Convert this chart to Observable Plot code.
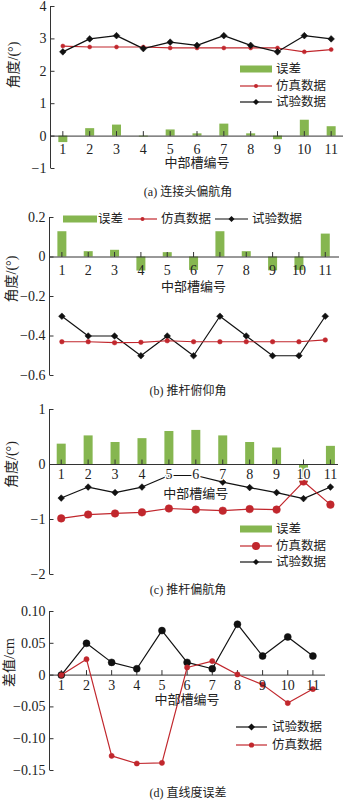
<!DOCTYPE html>
<html><head><meta charset="utf-8">
<script src="https://cdn.jsdelivr.net/npm/d3@7"></script>
<script src="https://cdn.jsdelivr.net/npm/@observablehq/plot@0.6"></script>
<style>
body{margin:0;background:#fff;}
#root{position:relative;width:346px;height:800px;font-family:"Liberation Serif","Noto Sans CJK SC",serif;color:#222;overflow:hidden;}
.panel{position:absolute;left:0;}
.panel svg text{font-family:"Liberation Serif","Noto Sans CJK SC",serif;}
.cap{position:absolute;left:30px;width:316px;text-align:center;font-size:12px;line-height:14px;}
.leg{position:absolute;font-size:12.5px;line-height:14px;white-space:nowrap;}
.sw{position:absolute;}
</style></head><body><div id="root"></div>
<script>
const cats = [1,2,3,4,5,6,7,8,9,10,11];
const xTitle = "中部槽编号";
const names = {err: "误差", sim: "仿真数据", test: "试验数据"};

// (a) 连接头偏航角
const aErr  = [-0.2,0.23,0.34,-0.03,0.19,0.07,0.37,0.07,-0.11,0.49,0.29];
const aSim  = [2.78,2.75,2.75,2.75,2.72,2.72,2.72,2.72,2.72,2.6,2.67];
const aTest = [2.6,3.0,3.1,2.7,2.9,2.8,3.1,2.8,2.6,3.1,3.0];
const aTicks = [-1,0,1,2,3,4];
// (b) 推杆俯仰角
const bErr  = [0.128,0.027,0.034,-0.071,0.022,-0.068,0.128,0.027,-0.07,-0.068,0.116];
const bSim  = [-0.429,-0.429,-0.434,-0.432,-0.424,-0.429,-0.429,-0.429,-0.429,-0.429,-0.42];
const bTest = [-0.3,-0.4,-0.4,-0.5,-0.4,-0.5,-0.3,-0.4,-0.5,-0.5,-0.3];
const bTicks = [-0.6,-0.4,-0.2,0,0.2];
// (c) 推杆偏航角
const cErr  = [0.37,0.52,0.4,0.47,0.6,0.62,0.52,0.4,0.3,-0.33,0.33];
const cSim  = [-0.98,-0.91,-0.89,-0.87,-0.8,-0.82,-0.84,-0.81,-0.82,-0.31,-0.73];
const cTest = [-0.61,-0.41,-0.51,-0.41,-0.2,-0.2,-0.32,-0.42,-0.51,-0.62,-0.41];
const cTicks = [-2,-1,0,1];
// (d) 直线度误差
const dTest = [0,0.05,0.02,0.01,0.07,0.02,0.01,0.08,0.03,0.06,0.03];
const dSim  = [0,0.025,-0.127,-0.139,-0.138,0.012,0.022,0.001,-0.015,-0.044,-0.022];
const dTicks = [-0.15,-0.10,-0.05,0,0.05,0.10];

const GREEN = "#86b650", RED = "#c1272d", BLACK = "#111", AX = "#333";
const FONT = '"Liberation Serif","Noto Sans CJK SC",serif';
const tickUp = {draw(ctx){ctx.moveTo(0,0);ctx.lineTo(0,-5);}};
const tickRight = {draw(ctx){ctx.moveTo(0,0);ctx.lineTo(4,0);}};
const fmt = n => d => d === 0 ? "0" : (d < 0 ? "\u2212" : "") + Math.abs(d).toFixed(n);

const root = document.getElementById("root");

function panel(o) {
  const marks = [];
  if (o.err) marks.push(Plot.ruleX(cats, {x: d => d, y1: 0, y2: (d, i) => o.err[i], stroke: GREEN, strokeWidth: 9}));
  marks.push(Plot.ruleY([0], {stroke: AX, strokeWidth: 1}));
  marks.push(Plot.ruleX([o.xDomain[0]], {stroke: AX, strokeWidth: 1}));
  marks.push(Plot.dot(cats, {x: d => d, y: 0, symbol: tickUp, stroke: AX, fill: "none", strokeWidth: 1}));
  marks.push(Plot.dot(o.yTicks, {y: d => d, frameAnchor: "left", symbol: tickRight, stroke: AX, fill: "none", strokeWidth: 1}));
  marks.push(Plot.axisY({ticks: o.yTicks, tickSize: 0, tickPadding: 4, tickFormat: o.fmt, fontSize: 14, fontFamily: FONT, label: null, fill: "#222"}));
  for (const s of o.series) {
    marks.push(Plot.line(cats, {x: d => d, y: (d, i) => s.values[i], stroke: s.color, strokeWidth: 1.2}));
    marks.push(Plot.dot(cats, {x: d => d, y: (d, i) => s.values[i], symbol: s.symbol, r: s.r, fill: s.color, stroke: s.color, strokeWidth: 0.5}));
  }
  marks.push(Plot.text(cats, {x: d => d, y: 0, dy: o.tickDy, text: d => String(d), fontSize: 14, fontFamily: FONT, fill: "#222",
    ...(o.halo ? {stroke: "white", strokeWidth: 3} : {})}));
  marks.push(Plot.text([xTitle], {x: d3.median(cats), y: 0, dy: o.titleDy, fontSize: 13, fontFamily: FONT, fill: "#222"}));
  marks.push(Plot.text([o.ylabel], {frameAnchor: "left", rotate: -90, dx: o.ylabelDx, dy: o.ylabelDy || 0, fontSize: 14, fontFamily: FONT, fill: "#222"}));
  const svg = Plot.plot({
    width: 346, height: o.height,
    marginTop: o.mt, marginBottom: o.mb, marginLeft: o.ml, marginRight: o.mr,
    x: {domain: o.xDomain, axis: null},
    y: {domain: o.yDomain, axis: null},
    style: {fontFamily: FONT, fontSize: "14px", color: "#222", background: "transparent", overflow: "visible"},
    marks
  });
  const div = document.createElement("div");
  div.className = "panel";
  div.style.top = o.top + "px";
  div.appendChild(svg);
  root.appendChild(div);
}

function caption(text, y) {
  const d = document.createElement("div");
  d.className = "cap"; d.style.top = (y - 7) + "px"; d.textContent = text;
  root.appendChild(d);
}

function swatch(kind, color, symbol, r, x1, x2, y) {
  const w = x2 - x1;
  const ns = "http://www.w3.org/2000/svg";
  const s = document.createElementNS(ns, "svg");
  s.setAttribute("width", w); s.setAttribute("height", 12);
  s.setAttribute("class", "sw");
  s.style.left = x1 + "px"; s.style.top = (y - 6) + "px";
  if (kind === "bar") {
    s.innerHTML = `<rect x="0" y="2.5" width="${w}" height="7" fill="${color}"/>`;
  } else {
    let m;
    if (symbol === "diamond") m = `<path d="M${w/2},${6-r}L${w/2+r},6L${w/2},${6+r}L${w/2-r},6Z" fill="${color}"/>`;
    else m = `<circle cx="${w/2}" cy="6" r="${r}" fill="${color}"/>`;
    s.innerHTML = `<line x1="0" x2="${w}" y1="6" y2="6" stroke="${color}" stroke-width="1.2"/>` + m;
  }
  root.appendChild(s);
}
function legText(text, x, y) {
  const d = document.createElement("div");
  d.className = "leg"; d.style.left = x + "px"; d.style.top = (y - 7) + "px"; d.textContent = text;
  root.appendChild(d);
}

// (a)
panel({top: 0, height: 175, mt: 6, mb: 7, ml: 50, mr: 3, xDomain: [0.54, 11.46], yDomain: [-1, 4],
  yTicks: aTicks, fmt: fmt(0), err: aErr, tickDy: 13, titleDy: 27, ylabel: "角度/(°)", ylabelDx: -37, ylabelDy: 1,
  series: [
    {values: aSim, color: RED, symbol: "circle", r: 2},
    {values: aTest, color: BLACK, symbol: "diamond2", r: 3}
  ]});
caption("(a) 连接头偏航角", 192);
swatch("bar", GREEN, null, 0, 240, 272, 69); legText(names.err, 276, 69);
swatch("line", RED, "circle", 2, 240, 272, 86); legText(names.sim, 276, 86);
swatch("line", BLACK, "diamond", 3, 240, 272, 102); legText(names.test, 276, 102);

// (b)
panel({top: 200, height: 180, mt: 17, mb: 5, ml: 49, mr: 7, xDomain: [0.53, 11.54], yDomain: [-0.6, 0.2],
  yTicks: bTicks, fmt: fmt(1), err: bErr, tickDy: 14, titleDy: 30, ylabel: "角度/(°)", ylabelDx: -38, ylabelDy: 6,
  series: [
    {values: bTest, color: BLACK, symbol: "diamond2", r: 3},
    {values: bSim, color: RED, symbol: "circle", r: 2.3}
  ]});
caption("(b) 推杆俯仰角", 391);
swatch("bar", GREEN, null, 0, 63, 97, 219); legText(names.err, 98, 219);
swatch("line", RED, "circle", 2, 128, 157, 219); legText(names.sim, 161, 219);
swatch("line", BLACK, "diamond", 3, 215, 248, 219); legText(names.test, 252, 219);

// (c)
panel({top: 398, height: 180, mt: 11, mb: 4, ml: 49, mr: 8, xDomain: [0.565, 11.3], yDomain: [-2, 1],
  yTicks: cTicks, fmt: fmt(0), err: cErr, tickDy: 10, titleDy: 29, ylabel: "角度/(°)", ylabelDx: -38, ylabelDy: -4, halo: true,
  series: [
    {values: cTest, color: BLACK, symbol: "diamond2", r: 3},
    {values: cSim, color: RED, symbol: "circle", r: 3.8}
  ]});
caption("(c) 推杆偏航角", 590);
swatch("bar", GREEN, null, 0, 240, 272, 529); legText(names.err, 276, 529);
swatch("line", RED, "circle", 4, 240, 272, 546); legText(names.sim, 276, 546);
swatch("line", BLACK, "diamond", 3, 240, 272, 562); legText(names.test, 276, 562);

// (d)
panel({top: 600, height: 175, mt: 11, mb: 5, ml: 49, mr: 21, xDomain: [0.53, 11.5], yDomain: [-0.15, 0.10],
  yTicks: dTicks, fmt: fmt(2), err: null, tickDy: 10, titleDy: 25, ylabel: "差值/cm", ylabelDx: -40, ylabelDy: -4,
  series: [
    {values: dTest, color: BLACK, symbol: "circle", r: 3.5},
    {values: dSim, color: RED, symbol: "circle", r: 2.6}
  ]});
caption("(d) 直线度误差", 793);
swatch("line", BLACK, "diamond", 3.5, 236, 267, 727); legText(names.test, 272, 727);
swatch("line", RED, "circle", 2.6, 236, 267, 745); legText(names.sim, 272, 745);
</script></body></html>
